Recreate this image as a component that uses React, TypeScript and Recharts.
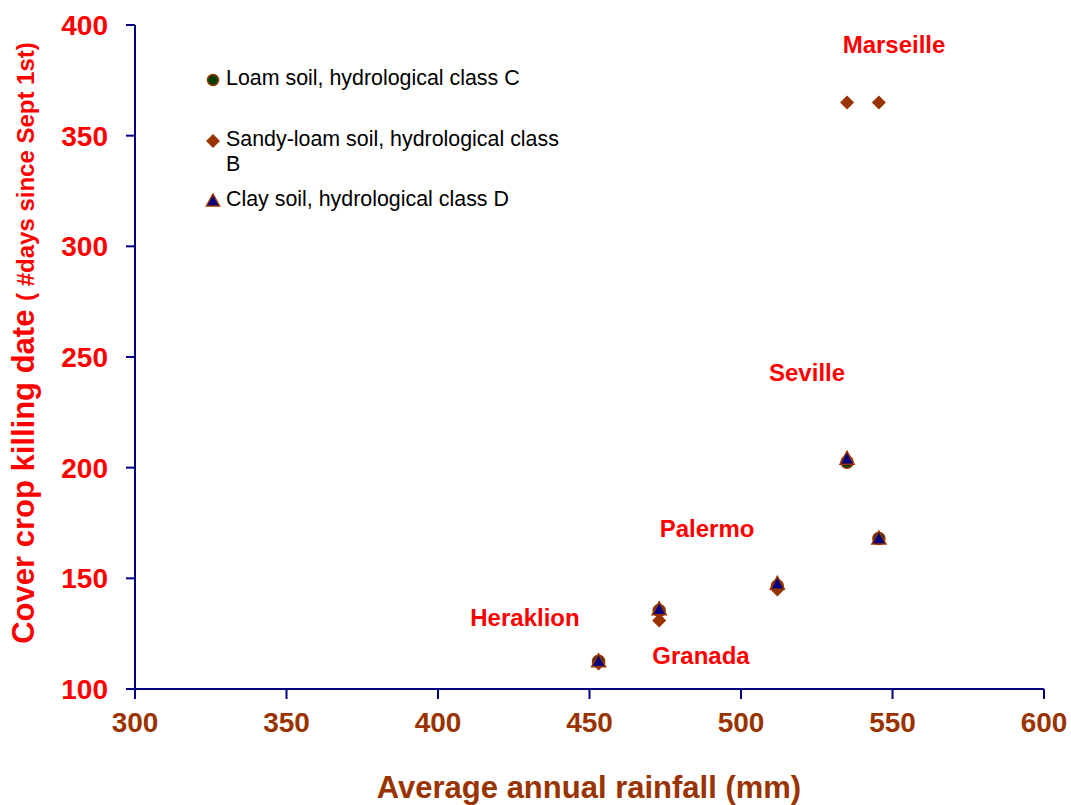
import { ScatterChart, Scatter, XAxis, YAxis } from "recharts";

const rainfall = [453, 473, 512, 535, 545.5];
const loam = [112.5, 135.5, 146.5, 202.5, 168];
const sandyLoam = [111.5, 131, 145, 365, 365];
const clay = [112.5, 136, 147.5, 204, 168];

const xTicks = [300, 350, 400, 450, 500, 550, 600];
const yTicks = [100, 150, 200, 250, 300, 350, 400];

const cities = ["Marseille", "Seville", "Palermo", "Heraklion", "Granada"];
const cityX = [550.5, 521.8, 488.8, 428.7, 486.8];
const cityY = [391, 242.8, 172.3, 132.1, 114.9];

const FONT = "Arial, 'Liberation Sans', sans-serif";
const NAVY = "#000080";
const BROWN = "#993300";
const RED = "#FF0000";

const pts = (ys: number[]) => rainfall.map((x, i) => ({ x, y: ys[i] }));
const cityData = cities.map((name, i) => ({ name, x: cityX[i], y: cityY[i] }));

const LoamDot = (p: any) => (
  <circle cx={p.cx} cy={p.cy} r={6} fill="#004000" stroke={BROWN} strokeWidth={1.5} />
);
const SandyDot = (p: any) => (
  <path d={`M${p.cx},${p.cy - 7}L${p.cx + 7},${p.cy}L${p.cx},${p.cy + 7}L${p.cx - 7},${p.cy}Z`} fill={BROWN} />
);
const ClayDot = (p: any) => (
  <path d={`M${p.cx},${p.cy - 7.5}L${p.cx + 7},${p.cy + 5.5}L${p.cx - 7},${p.cy + 5.5}Z`} fill={NAVY} stroke={BROWN} strokeWidth={1.5} />
);
const CityLabel = (p: any) => (
  <text x={p.cx} y={p.cy} dy="0.35em" textAnchor="middle" fill={RED} fontSize={24} fontWeight="bold" fontFamily={FONT}>
    {p.payload.name}
  </text>
);

const legendItems = [
  { label: "Loam soil, hydrological class C", icon: <circle cx={8} cy={8} r={5.5} fill="#004000" stroke={BROWN} strokeWidth={1.5} />, h: 61 },
  { label: "Sandy-loam soil, hydrological class B", icon: <path d="M8,1L15,8L8,15L1,8Z" fill={BROWN} />, h: 60 },
  { label: "Clay soil, hydrological class D", icon: <path d="M8,1L14.5,13L1.5,13Z" fill={NAVY} stroke={BROWN} strokeWidth={1.5} />, h: 30 },
];

const YLabel = () => (
  <text transform="translate(34,343) rotate(-90)" textAnchor="middle" fill={RED} fontWeight="bold" fontFamily={FONT}>
    <tspan fontSize={31}>Cover crop killing date </tspan>
    <tspan fontSize={24}>( #days since Sept 1st)</tspan>
  </text>
);

const XLabel = () => (
  <text x={589} y={798} textAnchor="middle" fill={BROWN} fontSize={31} fontWeight="bold" fontFamily={FONT}>
    Average annual rainfall (mm)
  </text>
);

export default function App() {
  return (
    <div style={{ position: "absolute", left: 0, top: 0, width: 1071, height: 805, background: "#fff" }}>
      <ScatterChart width={1071} height={805} margin={{ top: 25, right: 27, left: 0, bottom: 0 }}>
        <XAxis
          type="number"
          dataKey="x"
          domain={[300, 600]}
          ticks={xTicks}
          height={116}
          stroke={NAVY}
          strokeWidth={2}
          tickSize={10}
          tickMargin={13}
          tick={{ fill: BROWN, fontSize: 28, fontWeight: "bold", fontFamily: FONT }}
          label={{ content: XLabel }}
        />
        <YAxis
          type="number"
          dataKey="y"
          domain={[100, 400]}
          ticks={yTicks}
          width={135}
          stroke={NAVY}
          strokeWidth={2}
          tickSize={9}
          tickMargin={18}
          tick={{ fill: RED, fontSize: 28, fontWeight: "bold", fontFamily: FONT }}
          label={{ content: YLabel }}
        />
        <Scatter name="Loam" data={pts(loam)} shape={LoamDot} isAnimationActive={false} />
        <Scatter name="Sandy-loam" data={pts(sandyLoam)} shape={SandyDot} isAnimationActive={false} />
        <Scatter name="Clay" data={pts(clay)} shape={ClayDot} isAnimationActive={false} />
        <Scatter name="cities" data={cityData} shape={CityLabel} legendType="none" isAnimationActive={false} />
      </ScatterChart>
      {/* legend, placed by hand in the upper left of the plot */}
      <div style={{ position: "absolute", left: 205, top: 66, fontFamily: FONT, fontSize: 21.4, color: "#000", lineHeight: "25px" }}>
        {legendItems.map((it) => (
          <div key={it.label} style={{ display: "flex", alignItems: "flex-start", height: it.h }}>
            <svg width={16} height={16} style={{ marginTop: 6, marginRight: 5, flexShrink: 0 }}>{it.icon}</svg>
            <div style={{ width: 340 }}>{it.label}</div>
          </div>
        ))}
      </div>
    </div>
  );
}
